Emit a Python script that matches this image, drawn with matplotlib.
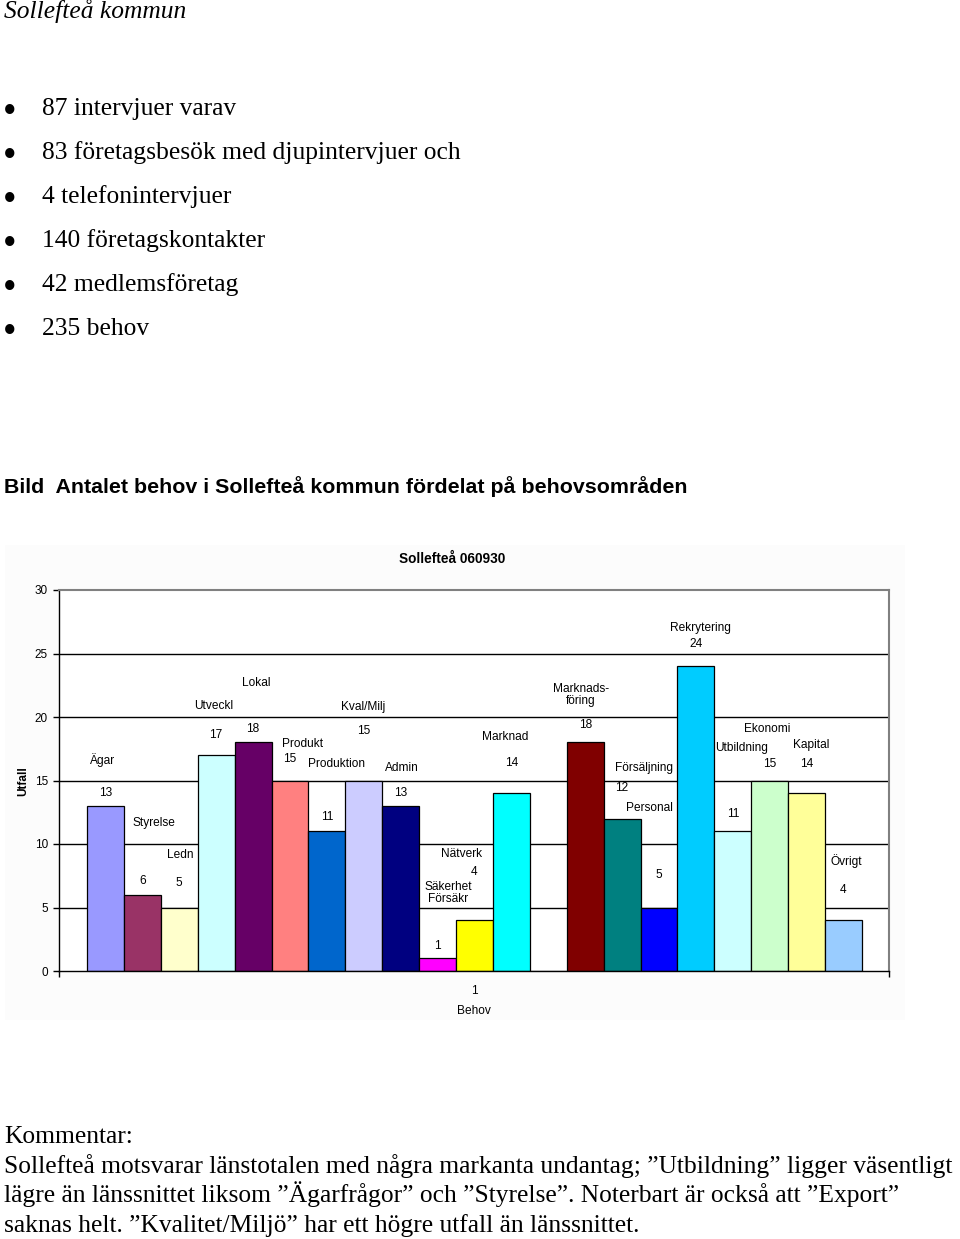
import matplotlib.pyplot as plt
from matplotlib.patches import Rectangle

W, H = 960, 1239

# Behovsområden och antal behov (Export saknas helt -> 0)
omraden = ['Ägar', 'Styrelse', 'Ledn', 'Utveckl', 'Lokal', 'Produkt', 'Produktion',
           'Kval/Milj', 'Admin', 'Säkerhet\nFörsäkr', 'Nätverk', 'Marknad', 'Export',
           'Marknads-\nföring', 'Försäljning', 'Personal', 'Rekrytering', 'Utbildning',
           'Ekonomi', 'Kapital', 'Övrigt']
antal = [13, 6, 5, 17, 18, 15, 11, 15, 13, 1, 4, 14, 0, 18, 12, 5, 24, 11, 15, 14, 4]
farger = ['#9999FF', '#993366', '#FFFFCC', '#CCFFFF', '#660066', '#FF8080', '#0066CC',
          '#CCCCFF', '#000080', '#FF00FF', '#FFFF00', '#00FFFF', '#800080',
          '#800000', '#008080', '#0000FF', '#00CCFF', '#CCFFFF',
          '#CCFFCC', '#FFFF99', '#99CCFF']
kategori = ['1']
y_ticks = [0, 5, 10, 15, 20, 25, 30]

punkter = ['87 intervjuer varav',
           '83 företagsbesök med djupintervjuer och',
           '4 telefonintervjuer',
           '140 företagskontakter',
           '42 medlemsföretag',
           '235 behov']
kommentar = ['Kommentar:',
             'Sollefteå motsvarar länstotalen med några markanta undantag; ”Utbildning” ligger väsentligt',
             'lägre än länssnittet liksom ”Ägarfrågor” och ”Styrelse”. Noterbart är också att ”Export”',
             'saknas helt. ”Kvalitet/Miljö” har ett högre utfall än länssnittet.']

# placering av etiketter (förskjutning från stapelns topp), handjusterat som i Excel
namn_dx = [-0.09, 0.32, 0.02, -0.06, 0.08, 0.33, 0.25, -0.02, 0.04, 0.28, -0.34, -0.17, 0,
           -0.11, 0.59, -0.27, 0.11, 0.25, -0.07, 0.12, 0.07]
namn_dy = [3.6, 5.65, 4.13, 3.87, 4.68, 2.87, 5.3, 5.79, 2.98, 5.14, 5.21, 4.43, 0,
           3.73, 3.98, 7.83, 3.0, 6.56, 4.06, 3.8, 4.66]
varde_dy = [1.0, 1.09, 1.93, 1.58, 1.06, 1.69, 1.13, 3.9, 1.02, 0.97, 3.8, 2.38, 0,
            1.37, 2.41, 2.56, 1.75, 1.36, 1.3, 2.3, 2.38]

SERIF = 'Liberation Serif'
SANS = 'Liberation Sans'


def ftext(x, y, s, **kw):
    return fig.text(x / W, 1 - y / H, s, **kw)


fig = plt.figure(figsize=(W / 100, H / 100), dpi=100)

# sidtext
ftext(4, 18, 'Sollefteå kommun', family=SERIF, style='italic', size=18.4, va='baseline')
for i, p in enumerate(punkter):
    yb = 115 + 44 * i
    ftext(10, yb - 1, '•', family=SERIF, size=28, ha='center', va='center')
    ftext(42, yb, p, family=SERIF, size=18.4, va='baseline')
ftext(4, 493, 'Bild  Antalet behov i Sollefteå kommun fördelat på behovsområden',
      family=SANS, weight='bold', size=15.4, va='baseline')
for i, rad in enumerate(kommentar):
    ftext(4, 1143 + 29.6 * i, rad, family=SERIF, size=18.4, va='baseline')

# diagramytans bakgrund
fig.patches.append(Rectangle((5 / W, 1 - 1020 / H), 900 / W, 475 / H,
                             transform=fig.transFigure, facecolor='#fcfcfc',
                             edgecolor='none', zorder=-1))

ax = fig.add_axes([59 / W, 1 - 971 / H, 830 / W, 381 / H])
ax.set_facecolor('white')
x = list(range(len(antal)))
ax.bar(x, antal, width=1.0, color=farger, edgecolor='black', linewidth=0.9, zorder=2)

for yv in y_ticks[1:-1]:
    ax.axhline(yv, color='black', linewidth=1.0, zorder=1)

ax.set_ylim(0, 30)
ax.set_xlim(-0.5 - 28 / 36.9, len(antal) - 0.5 + 27 / 36.9)
ax.set_yticks(y_ticks)
ax.tick_params(axis='y', direction='out', length=4, width=1, pad=4, labelsize=8.5)
for t in ax.get_yticklabels():
    t.set_family(SANS)
ax.set_xticks(ax.get_xlim())
ax.set_xticklabels([])
ax.tick_params(axis='x', which='major', direction='out', length=4, width=1)
ax.set_xticks([(len(antal) - 1) / 2], minor=True)
ax.set_xticklabels(kategori, minor=True, family=SANS, size=8.5)
ax.tick_params(axis='x', which='minor', length=0, pad=10)

for s in ['left', 'bottom']:
    ax.spines[s].set_color('black')
    ax.spines[s].set_linewidth(1.0)
for s in ['top', 'right']:
    ax.spines[s].set_color('#808080')
    ax.spines[s].set_linewidth(1.5)

for i, (namn, v) in enumerate(zip(omraden, antal)):
    if v == 0:
        continue
    ax.text(i + namn_dx[i], v + namn_dy[i], namn, ha='center', va='center',
            family=SANS, size=8.6, linespacing=1.1, zorder=3)
    ax.text(i, v + varde_dy[i], str(v), ha='center', va='center',
            family=SANS, size=8.6, zorder=3)

ftext(452, 559, 'Sollefteå 060930', family=SANS, weight='bold', size=9.8, ha='center', va='center')
ftext(23, 781, 'Utfall', family=SANS, weight='bold', size=8.5, rotation=90,
      ha='center', va='center')
ftext(474, 1011, 'Behov', family=SANS, size=8.6, ha='center', va='center')

fig.savefig('out.png', dpi=100)
